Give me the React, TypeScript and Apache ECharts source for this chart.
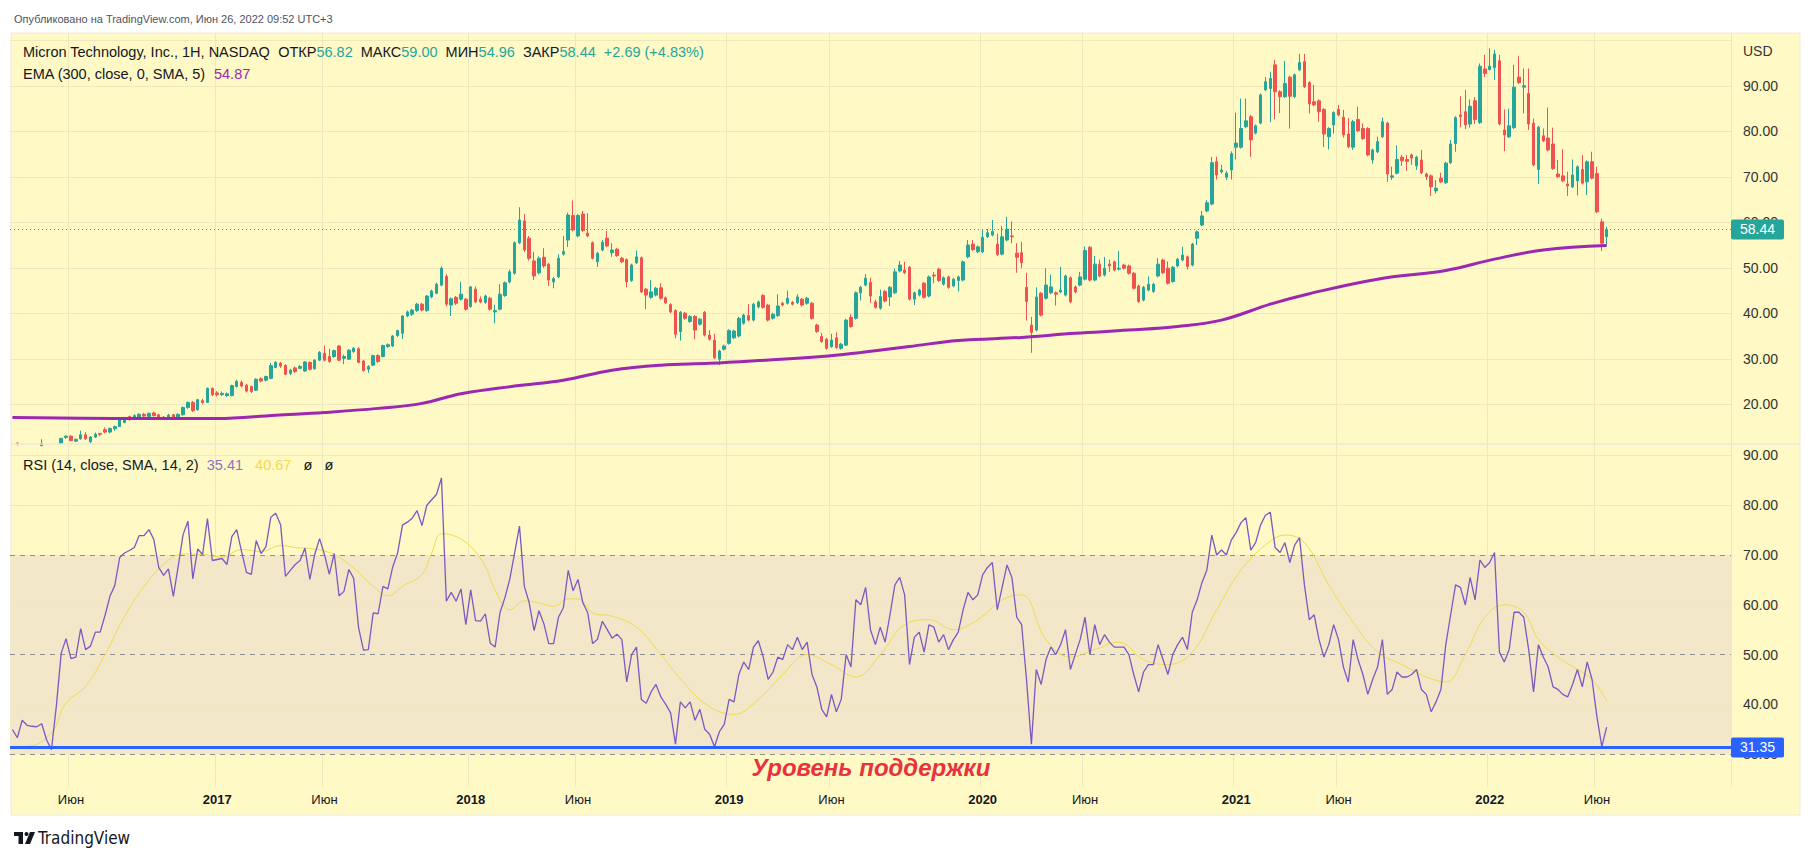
import React, { useEffect, useRef } from "react";
import * as echarts from "echarts";

// ---------- axis / categories ----------
const START_DATE_UTC = Date.UTC(2016, 2, 14); // first weekly bar (Monday)
const TOTAL_WEEKS = 353; // includes empty future space on the right

const tickDates = [
  "2016-06-06", "2017-01-02", "2017-06-05", "2018-01-01", "2018-06-04", "2019-01-07", "2019-06-03",
  "2020-01-06", "2020-06-01", "2021-01-04", "2021-05-31", "2022-01-03", "2022-06-06",
];
const tickTexts = ["Июн", "2017", "Июн", "2018", "Июн", "2019", "Июн", "2020", "Июн", "2021", "Июн", "2022", "Июн"];

const priceGridValues = [20, 30, 40, 50, 60, 70, 80, 90, 100];
const priceLabelValues = [20, 30, 40, 50, 60, 70, 80, 90];
const rsiGridValues = [40, 60, 80, 90];
const rsiDashedValues = [70, 50, 30];
const rsiLabelValues = [30, 40, 50, 60, 70, 80, 90];
const PRICE_MIN = 11.27;
const PRICE_MAX = 101.6;
const RSI_MIN = 23.4;
const RSI_MAX = 92.3;
const SUPPORT_LEVEL = 31.35;

// ---------- weekly candles (open, close, low, high) ----------
const opens = [
  10.9, 11.5, 11.1, 10.7, 10.9, 10.6, 10.9, 11.1, 10.6, 10.9,
  11.4, 12.7, 13.0, 11.9, 12.4, 13.3, 11.8, 12.8, 13.6, 14.4,
  13.9, 14.6, 15.1, 16.0, 17.3, 16.8, 16.9, 17.8, 17.3, 18.1,
  17.7, 17.2, 16.9, 17.7, 16.9, 17.7, 19.3, 20.4, 18.8, 20.8,
  20.4, 23.5, 22.5, 22.1, 21.9, 21.9, 23.9, 24.8, 24.2, 23.9,
  23.1, 25.6, 25.3, 25.7, 28.1, 29.0, 28.5, 26.8, 28.0, 27.9,
  27.3, 29.2, 27.8, 29.7, 31.2, 30.5, 30.5, 32.8, 30.1, 29.9,
  31.6, 32.2, 29.5, 27.7, 28.6, 30.7, 30.5, 32.7, 32.8, 35.1,
  35.6, 39.4, 39.8, 40.6, 42.0, 40.6, 43.6, 44.4, 46.2, 48.1,
  41.8, 43.5, 43.1, 43.1, 41.5, 45.3, 43.1, 42.4, 43.3, 40.3,
  40.9, 43.9, 46.9, 48.8, 55.5, 60.3, 56.5, 51.5, 48.9, 52.3,
  50.8, 46.9, 48.0, 53.0, 56.1, 61.5, 57.0, 61.8, 57.6, 55.5,
  51.3, 53.9, 56.5, 53.3, 54.1, 52.1, 51.8, 47.2, 51.1, 52.2,
  45.3, 43.5, 44.0, 45.6, 43.4, 41.9, 40.6, 36.0, 40.0, 38.2,
  39.3, 37.6, 40.2, 35.2, 34.1, 29.9, 32.1, 33.4, 34.6, 35.0,
  37.8, 39.5, 38.5, 41.4, 43.9, 41.8, 38.9, 39.5, 42.2, 42.2,
  42.4, 42.3, 43.1, 42.2, 42.2, 37.4, 34.9, 34.3, 32.7, 34.6,
  32.3, 33.0, 39.1, 38.9, 44.5, 46.2, 46.8, 42.5, 41.1, 44.8,
  43.6, 44.5, 49.3, 49.5, 50.1, 43.1, 44.0, 46.6, 43.8, 48.4,
  49.7, 46.4, 48.0, 46.0, 47.2, 47.3, 52.4, 55.2, 53.5, 53.5,
  56.8, 57.2, 55.2, 53.0, 56.1, 57.0, 53.2, 53.3, 45.7, 37.4,
  36.3, 44.4, 43.3, 44.5, 44.5, 44.7, 44.0, 47.8, 45.8, 46.2,
  47.5, 54.5, 47.3, 50.8, 48.4, 50.8, 51.3, 49.7, 50.6, 50.4,
  48.8, 46.0, 42.9, 45.1, 44.8, 48.2, 51.7, 49.9, 47.0, 50.4,
  51.7, 52.4, 50.6, 56.5, 59.4, 62.5, 64.0, 73.3, 71.1, 69.9,
  71.5, 76.5, 76.5, 81.0, 83.2, 79.6, 81.8, 89.1, 89.4, 94.6,
  88.7, 87.6, 91.9, 87.6, 93.5, 95.3, 90.7, 86.5, 86.7, 84.8,
  78.8, 81.4, 84.8, 83.1, 79.4, 76.5, 82.6, 80.6, 80.6, 73.7,
  75.5, 78.8, 81.8, 69.9, 70.8, 74.3, 73.8, 74.8, 72.4, 73.7,
  70.6, 70.2, 66.9, 69.7, 68.7, 73.1, 77.3, 83.6, 84.3, 81.6,
  86.7, 81.9, 93.7, 93.6, 94.0, 95.5, 80.3, 78.8, 80.8, 91.9,
  89.7, 88.3, 81.8, 71.6, 79.0, 78.5, 77.2, 70.6, 70.2, 68.4,
  67.8, 69.1, 71.6, 68.9, 73.3, 70.7, 60.1, 56.82,
];
const closes = [
  10.8, 11.3, 10.7, 10.9, 10.6, 10.9, 11.4, 10.6, 10.9, 11.1,
  12.5, 13.0, 12.0, 12.3, 13.3, 12.4, 12.8, 13.4, 13.4, 13.9,
  14.7, 15.1, 16.7, 16.9, 16.6, 17.5, 17.8, 17.4, 18.0, 17.5,
  16.9, 16.8, 17.6, 16.8, 17.8, 19.3, 20.4, 18.6, 21.0, 20.4,
  23.5, 22.1, 22.1, 22.4, 22.3, 24.1, 25.0, 24.0, 22.9, 22.8,
  25.5, 25.1, 26.1, 28.5, 29.2, 28.4, 26.6, 27.5, 27.2, 28.3,
  29.3, 27.7, 29.7, 31.4, 29.7, 29.4, 31.8, 29.7, 30.5, 31.9,
  32.3, 29.2, 27.4, 28.3, 30.7, 29.4, 32.9, 33.1, 35.0, 36.2,
  39.4, 40.3, 40.7, 42.0, 40.7, 43.8, 44.9, 46.4, 49.9, 42.0,
  43.2, 42.2, 44.2, 40.9, 45.8, 42.5, 42.5, 43.8, 40.9, 40.6,
  44.2, 46.7, 49.1, 55.5, 60.5, 53.9, 52.1, 48.2, 52.1, 50.4,
  47.3, 47.6, 52.1, 53.6, 61.6, 58.3, 61.5, 58.2, 57.0, 52.1,
  53.2, 55.6, 54.8, 53.9, 52.7, 51.3, 46.9, 50.6, 52.4, 44.7,
  44.0, 44.7, 45.5, 43.3, 42.3, 40.3, 35.4, 40.2, 38.9, 39.3,
  36.3, 38.7, 35.2, 34.3, 30.2, 31.7, 32.8, 36.2, 36.1, 38.9,
  39.6, 38.5, 42.0, 42.5, 41.3, 38.5, 39.8, 41.6, 41.8, 43.3,
  42.0, 43.6, 41.8, 43.3, 38.9, 36.0, 33.8, 32.3, 34.1, 32.5,
  33.2, 38.5, 37.1, 44.5, 45.7, 47.7, 43.8, 41.3, 43.7, 42.7,
  45.7, 49.1, 50.6, 48.9, 43.1, 44.5, 45.1, 43.5, 48.0, 48.2,
  47.2, 47.8, 45.7, 47.5, 48.0, 51.3, 55.0, 54.0, 54.6, 56.7,
  57.7, 58.0, 52.9, 56.8, 58.5, 56.8, 52.3, 51.1, 42.6, 35.8,
  43.6, 39.6, 46.2, 45.8, 44.2, 45.1, 48.2, 42.5, 44.7, 48.0,
  53.8, 47.3, 50.8, 48.2, 49.9, 50.4, 49.5, 49.9, 49.9, 48.8,
  45.5, 42.6, 45.7, 46.4, 46.4, 50.8, 48.9, 46.6, 50.1, 51.9,
  52.8, 50.3, 55.2, 57.9, 61.4, 64.3, 73.1, 70.4, 71.5, 70.8,
  75.1, 77.4, 80.6, 82.3, 78.1, 81.2, 88.0, 90.9, 91.6, 88.7,
  87.6, 90.5, 87.7, 92.4, 95.1, 89.8, 86.0, 85.8, 84.3, 79.4,
  80.6, 84.1, 83.6, 79.2, 76.6, 82.1, 80.1, 78.4, 74.8, 75.9,
  77.7, 82.1, 70.6, 70.2, 73.8, 73.5, 73.4, 74.1, 74.3, 70.9,
  70.0, 67.8, 67.5, 68.9, 73.0, 77.2, 83.0, 83.2, 81.4, 85.5,
  82.6, 94.3, 92.7, 94.3, 97.0, 81.6, 79.2, 81.2, 89.7, 90.7,
  90.0, 81.6, 72.6, 80.9, 77.9, 75.9, 71.8, 70.0, 69.1, 68.0,
  70.4, 72.2, 68.6, 73.3, 69.7, 62.3, 55.4, 58.44,
];
const lows = [
  10.5, 11.0, 10.5, 10.5, 10.3, 10.4, 10.8, 10.4, 10.4, 10.7,
  11.2, 12.4, 11.9, 11.7, 12.2, 12.2, 11.4, 12.6, 13.0, 13.6,
  13.6, 14.2, 15.0, 15.8, 16.4, 16.6, 16.7, 17.2, 17.1, 17.3,
  16.7, 16.6, 16.8, 16.6, 16.8, 17.5, 19.0, 18.3, 18.6, 20.0,
  20.3, 21.8, 21.7, 21.8, 21.6, 21.8, 23.7, 23.7, 22.6, 22.5,
  22.9, 24.8, 25.0, 25.5, 27.9, 28.0, 26.4, 26.4, 26.9, 27.7,
  27.1, 27.4, 27.6, 29.5, 29.4, 29.1, 30.2, 29.5, 28.8, 29.7,
  31.3, 29.0, 27.2, 26.9, 28.4, 29.1, 30.3, 32.4, 32.6, 34.8,
  34.3, 39.1, 39.4, 40.3, 40.4, 40.3, 43.3, 44.2, 45.9, 41.5,
  39.4, 41.8, 42.8, 40.6, 41.2, 42.2, 42.2, 42.1, 40.6, 37.8,
  40.6, 43.6, 46.6, 48.5, 55.2, 53.5, 51.6, 47.3, 48.5, 50.0,
  46.0, 45.5, 47.7, 52.7, 54.6, 58.0, 56.7, 57.9, 56.7, 51.8,
  50.2, 53.6, 54.5, 52.4, 52.4, 51.0, 45.7, 46.9, 50.8, 44.4,
  40.9, 43.2, 43.7, 43.0, 42.0, 40.0, 34.5, 34.0, 38.6, 37.9,
  34.3, 37.3, 34.9, 34.0, 29.9, 28.6, 31.8, 33.1, 34.3, 34.7,
  37.5, 38.2, 38.2, 41.1, 41.0, 38.2, 38.6, 39.2, 41.5, 41.9,
  41.7, 42.0, 41.5, 41.9, 38.6, 35.7, 33.5, 32.0, 32.4, 32.2,
  32.0, 32.8, 36.8, 38.6, 42.8, 45.9, 42.3, 41.0, 40.8, 42.4,
  41.6, 44.2, 49.0, 48.6, 42.8, 41.8, 43.7, 43.2, 43.5, 46.6,
  46.9, 46.1, 45.4, 45.7, 44.8, 47.0, 52.1, 53.7, 53.2, 53.2,
  56.5, 56.9, 52.6, 52.7, 55.8, 55.4, 48.9, 49.9, 38.4, 31.3,
  36.0, 39.3, 43.0, 44.2, 41.7, 44.4, 43.7, 42.2, 44.4, 45.9,
  47.2, 47.0, 47.0, 47.9, 48.1, 49.1, 49.2, 49.4, 49.6, 48.5,
  45.2, 42.3, 42.6, 44.8, 44.5, 47.9, 48.6, 46.3, 46.7, 50.1,
  51.4, 49.6, 50.3, 55.0, 59.1, 62.2, 63.7, 69.4, 70.7, 69.3,
  69.4, 73.8, 76.2, 80.7, 74.4, 79.3, 81.5, 88.8, 82.0, 82.6,
  84.0, 87.3, 80.6, 87.3, 93.2, 89.5, 83.9, 85.5, 82.1, 76.5,
  76.0, 79.5, 83.3, 78.6, 76.3, 75.9, 79.8, 78.1, 74.5, 72.9,
  75.2, 78.5, 68.9, 69.3, 70.5, 72.4, 71.3, 72.6, 71.5, 70.6,
  69.3, 65.8, 66.3, 68.6, 68.4, 72.8, 75.5, 80.9, 80.5, 80.8,
  81.6, 81.6, 91.9, 93.3, 91.3, 81.3, 75.6, 78.5, 80.5, 90.4,
  83.9, 80.3, 72.3, 68.4, 77.6, 75.6, 71.5, 69.7, 68.8, 65.8,
  67.5, 65.9, 68.3, 66.0, 69.4, 62.0, 53.7, 54.96,
];
const highs = [
  11.1, 11.6, 11.2, 11.1, 11.0, 11.1, 12.3, 11.2, 11.1, 11.2,
  12.6, 13.2, 13.2, 12.5, 14.2, 13.9, 13.0, 13.8, 13.7, 14.9,
  14.9, 15.3, 16.9, 17.1, 17.5, 17.8, 18.0, 18.1, 18.2, 18.4,
  17.9, 17.4, 17.9, 17.9, 18.0, 19.5, 20.6, 20.7, 21.2, 21.2,
  23.7, 23.7, 22.9, 22.8, 22.6, 24.3, 25.4, 25.2, 24.5, 24.1,
  25.7, 25.9, 26.3, 29.1, 29.5, 29.3, 28.8, 27.8, 28.3, 28.6,
  29.5, 29.4, 29.9, 31.7, 32.9, 32.2, 32.0, 33.0, 30.9, 32.1,
  32.6, 32.5, 29.8, 28.6, 30.9, 31.0, 33.1, 33.4, 35.2, 36.4,
  39.6, 40.6, 41.0, 42.3, 42.3, 44.0, 45.2, 46.7, 50.3, 48.6,
  43.5, 43.8, 46.9, 43.4, 46.0, 45.9, 43.7, 44.1, 43.6, 41.9,
  46.4, 47.0, 49.6, 55.8, 63.3, 61.8, 57.0, 53.5, 52.5, 54.3,
  51.1, 48.0, 53.0, 57.0, 62.1, 64.8, 61.8, 62.5, 62.0, 55.8,
  53.5, 56.1, 58.1, 55.4, 54.4, 52.4, 52.1, 50.9, 53.8, 52.5,
  45.6, 47.3, 45.8, 46.6, 43.7, 42.2, 40.9, 40.5, 40.3, 39.6,
  39.6, 39.0, 40.5, 36.3, 35.5, 32.0, 33.1, 36.5, 36.4, 39.2,
  39.9, 42.0, 42.3, 42.8, 44.2, 42.1, 40.1, 44.2, 42.5, 45.0,
  42.7, 44.2, 43.4, 43.6, 42.5, 37.7, 35.7, 34.6, 35.5, 35.8,
  33.5, 38.8, 39.8, 44.8, 46.0, 48.6, 47.8, 43.0, 45.2, 45.1,
  46.0, 49.8, 51.5, 51.3, 50.4, 44.8, 45.4, 46.9, 48.3, 49.1,
  50.0, 48.1, 48.3, 47.8, 48.3, 51.6, 56.1, 56.1, 54.9, 58.5,
  58.5, 60.5, 57.5, 59.2, 61.2, 60.2, 55.4, 55.7, 48.9, 39.2,
  45.7, 44.7, 49.9, 48.5, 44.8, 50.2, 48.5, 48.1, 46.1, 49.1,
  54.7, 54.8, 52.6, 51.8, 52.4, 51.8, 51.6, 53.7, 50.9, 50.7,
  49.1, 46.3, 46.0, 48.1, 46.7, 52.1, 52.0, 51.4, 50.4, 52.2,
  54.6, 52.7, 55.5, 58.2, 62.5, 64.9, 74.4, 74.4, 72.6, 71.3,
  75.6, 84.1, 87.2, 87.2, 83.6, 81.5, 88.3, 91.9, 93.1, 95.7,
  89.0, 95.5, 92.2, 92.7, 97.0, 97.0, 91.0, 90.2, 87.0, 85.1,
  80.9, 84.4, 85.8, 84.7, 82.9, 82.5, 85.4, 81.7, 80.9, 76.2,
  78.8, 83.0, 82.1, 72.2, 76.9, 74.8, 74.8, 75.1, 74.6, 75.9,
  70.9, 70.5, 69.3, 70.9, 73.3, 78.1, 83.3, 87.7, 89.1, 87.0,
  87.5, 94.9, 96.8, 98.2, 97.9, 96.8, 84.8, 85.0, 94.6, 96.5,
  93.8, 93.8, 82.8, 81.2, 80.6, 85.2, 80.8, 73.7, 76.0, 71.1,
  73.8, 72.5, 74.8, 73.6, 75.5, 72.2, 60.8, 59.0,
];

// ---------- EMA (300, SMA 5 smoothed) read at sample bars ----------
const emaPoints: [number, number][] = [
  [0, 17.1], [21, 16.9], [42, 16.85], [54, 17.6], [64, 18.2], [75, 19.1], [84, 20.2], [92, 22.3],
  [103, 24.0], [113, 25.3], [123, 27.5], [133, 28.6], [143, 29.0], [153, 29.6], [166, 30.5], [174, 31.4],
  [184, 32.7], [194, 34.0], [207, 34.7], [218, 35.6], [229, 36.3], [239, 37.1], [248, 38.5], [258, 42.0],
  [266, 44.3], [280, 47.5], [294, 49.4], [304, 51.9], [314, 53.9], [327, 54.87],
];

// ---------- RSI(14) per bar ----------
const rsiValues = [
  34.95, 33.3, 36.8, 35.8, 35.6, 35.5, 36.1, 32.9, 30.9, 39.6,
  50.3, 53.2, 49.2, 49.5, 55.2, 51.0, 51.7, 54.5, 54.5, 57.9,
  61.7, 63.9, 69.5, 70.4, 70.9, 71.5, 73.9, 73.9, 75.1, 73.1,
  67.5, 65.9, 67.2, 61.7, 67.7, 74.1, 76.8, 65.2, 71.2, 70.1,
  77.3, 68.9, 69.1, 69.3, 68.1, 73.7, 75.1, 70.7, 66.5, 66.1,
  72.9, 70.3, 71.7, 77.6, 78.4, 76.1, 65.7, 66.9, 68.1, 68.9,
  71.4, 65.1, 70.1, 73.3, 70.1, 66.1, 70.3, 61.8, 62.7, 67.1,
  65.3, 55.4, 50.9, 51.0, 58.4, 58.2, 63.7, 63.2, 67.6, 70.4,
  76.0, 76.6, 77.4, 78.9, 75.9, 80.0, 81.1, 82.2, 85.5, 60.7,
  62.5, 60.7, 63.2, 56.0, 63.0, 56.8, 56.7, 58.2, 52.3, 51.5,
  58.4, 61.4, 65.1, 70.4, 75.8, 63.7, 60.4, 54.8, 58.8, 56.2,
  52.2, 52.2, 57.5, 59.4, 66.9, 62.8, 65.1, 60.4, 58.4, 52.2,
  53.1, 56.7, 55.0, 53.3,
  54.1, 53.0, 44.5, 50.0, 51.5, 41.0, 40.2, 42.5, 44.0, 41.5,
  40.0, 38.3, 32.0, 40.5, 39.3, 40.5, 36.8, 39.0, 35.0, 34.0,
  31.5, 34.5, 36.0, 41.0, 40.5, 46.0, 48.5, 47.0, 51.5, 52.8,
  49.5, 45.0, 46.5, 49.5, 49.0, 52.0, 51.0, 53.5, 51.0, 52.5,
  46.0, 43.5, 39.0, 37.5, 42.0, 38.5, 41.0, 50.0, 47.5, 61.0,
  60.0, 63.5, 55.0, 52.0, 55.5, 52.5, 58.0, 64.0, 65.5, 62.0,
  48.0, 53.5, 54.5, 50.5, 56.0, 55.5, 52.5, 54.0, 51.0, 53.0,
  54.5, 59.0, 62.5, 61.0, 62.0, 66.0, 67.5, 68.5, 59.0, 63.5,
  68.0, 65.5, 57.5, 56.0, 45.0, 32.0, 47.0, 44.0, 49.0, 51.5,
  50.0, 52.0, 55.0, 47.0, 50.0, 53.0, 57.5, 50.0, 56.0, 52.0,
  54.0, 52.5, 51.5, 51.5, 51.5, 50.0, 46.0, 42.5, 46.5, 48.0,
  48.0, 52.0, 49.0, 46.0, 50.0, 52.0, 53.5, 51.0, 58.5, 61.0,
  64.5, 67.0, 74.0, 70.0, 71.0, 70.0, 73.0, 74.5, 76.5, 77.5,
  71.0, 72.5, 76.0, 78.0, 78.6, 71.5, 70.5, 72.5, 68.5, 72.0,
  73.5, 64.0, 57.0, 58.0, 53.0, 49.5, 52.0, 56.0, 53.0, 47.5,
  44.5, 53.0, 49.0, 46.0, 42.0, 45.0, 47.5, 53.0, 42.0, 43.0,
  46.5, 45.5, 45.5, 46.0, 47.0, 43.0, 42.0, 38.5, 40.5, 43.0,
  52.0, 58.0, 64.0, 63.5, 60.0, 65.5, 61.0, 69.0, 67.5, 68.5,
  70.5, 50.5, 48.5, 51.0, 58.5, 58.5, 57.5, 51.0, 42.5, 52.0,
  49.5, 47.5, 43.5, 43.0, 42.0, 41.5, 44.0, 47.0, 43.5, 48.5,
  45.0, 37.5, 31.5, 35.41,
];

// ---------- RSI-based MA (SMA 14) read at sample bars ----------
const rsiSmaPoints: [number, number][] = [
  [0, 31.6], [3, 31.6], [8, 34.3], [11, 40.3], [15, 43.6], [19, 50.0], [23, 57.7], [27, 63.7],
  [31, 68.1], [35, 70.2], [39, 70.1], [43, 69.6], [47, 71.1], [51, 70.7], [55, 71.9], [58, 71.5],
  [62, 71.2], [66, 70.1], [70, 67.4], [74, 63.7], [77, 61.8], [80, 63.7], [84, 66.1], [86, 70.4],
  [88, 74.3], [91, 73.7], [94, 71.7], [97, 67.7], [99, 63.0], [102, 59.0], [105, 60.8], [108, 60.4],
  [111, 59.7], [114, 61.2], [116, 61.2], [119, 58.4], [123, 57.7], [128, 55.5], [133, 50.0], [138, 44.0],
  [143, 39.5], [148, 38.0], [153, 41.0], [158, 46.0], [163, 50.0], [168, 48.0], [173, 45.5], [178, 50.0],
  [183, 56.0], [188, 57.0], [193, 55.0], [198, 57.0], [203, 61.0], [207, 62.0], [212, 53.0], [217, 49.5],
  [222, 51.0], [227, 52.5], [232, 49.0], [237, 48.0], [242, 50.5], [247, 59.0], [252, 67.0], [257, 72.0],
  [261, 74.0], [265, 72.5], [270, 64.0], [275, 56.5], [280, 50.5], [285, 48.0], [290, 45.5], [294, 44.5],
  [298, 50.0], [302, 57.5], [306, 60.0], [310, 58.5], [313, 53.0], [317, 49.5], [321, 47.0], [324, 45.0],
  [327, 40.67],
];

// ---------- legend texts ----------
const HEADER_TEXT = "Опубликовано на TradingView.com, Июн 26, 2022 09:52 UTC+3";
const SYMBOL_TEXT = "Micron Technology, Inc., 1H, NASDAQ";
const ohlcLabels = ["ОТКР", "МАКС", "МИН", "ЗАКР"];
const ohlcValues = ["56.82", "59.00", "54.96", "58.44"];
const CHANGE_TEXT = "+2.69 (+4.83%)";
const EMA_TITLE = "EMA (300, close, 0, SMA, 5)";
const EMA_LAST = "54.87";
const RSI_TITLE = "RSI (14, close, SMA, 14, 2)";
const RSI_LAST = "35.41";
const RSI_MA_LAST = "40.67";
const SUPPORT_TEXT = "Уровень поддержки";

// ---------- styles ----------
const FONT = "'Liberation Sans', Arial, sans-serif";
const NARROW_FONT = "'Liberation Sans Narrow', 'DejaVu Sans Condensed', 'Liberation Sans', sans-serif";
const UP = "#26a69a";
const DOWN = "#ef5350";
const BG = "#fff9c6";
const GRID = "#efe8bf";
const BAND = "#f2e8c9";
const TEXT = "#131722";
const EMA_COLOR = "#9c27b0";
const RSI_COLOR = "#7e57c2";
const RSI_MA_COLOR = "#f3d94e";
const SUPPORT_COLOR = "#2962ff";
const LEGEND_SIZE = 14.5;

function buildCategories(): string[] {
  const out: string[] = [];
  for (let k = 0; k < TOTAL_WEEKS; k++) {
    out.push(new Date(START_DATE_UTC + k * 7 * 86400000).toISOString().slice(0, 10));
  }
  return out;
}

function sparse(points: [number, number][], len: number): (number | null)[] {
  const arr: (number | null)[] = new Array(len).fill(null);
  points.forEach(([i, v]) => {
    arr[i] = v;
  });
  return arr;
}

function buildOption() {
  const cats = buildCategories();
  const tickMap = new Map<number, string>();
  tickDates.forEach((d, j) => tickMap.set(cats.indexOf(d), tickTexts[j]));
  const candleData = opens.map((o, k) => [o, closes[k], lows[k], highs[k]]);
  const lastClose = closes[closes.length - 1];
  const n = closes.length;

  const splitInterval = (idx: number) => tickMap.has(idx);

  const xAxisBase = {
    type: "category",
    data: cats,
    boundaryGap: true,
    axisLine: { show: false },
    axisTick: { show: false },
    splitLine: { show: true, interval: splitInterval, lineStyle: { color: GRID, width: 1 } },
  };

  const legendRich = {
    d: { fill: TEXT, fontSize: LEGEND_SIZE, fontFamily: FONT },
    v: { fill: UP, fontSize: LEGEND_SIZE, fontFamily: FONT },
    e: { fill: EMA_COLOR, fontSize: LEGEND_SIZE, fontFamily: FONT },
    r: { fill: "#8a73c4", fontSize: LEGEND_SIZE, fontFamily: FONT },
    m: { fill: RSI_MA_COLOR, fontSize: LEGEND_SIZE, fontFamily: FONT },
  };

  let legend1 = `{d|${SYMBOL_TEXT}}`;
  ohlcLabels.forEach((l, j) => {
    legend1 += `{d|  ${l}}{v|${ohlcValues[j]}}`;
  });
  legend1 += `{v|  ${CHANGE_TEXT}}`;

  return {
    animation: false,
    backgroundColor: "#ffffff",
    textStyle: { fontFamily: FONT },
    grid: [
      { left: 10, right: 82, top: 33, height: 411 },
      { left: 10, right: 82, top: 444, height: 343 },
    ],
    xAxis: [
      { ...xAxisBase, gridIndex: 0, axisLabel: { show: false } },
      {
        ...xAxisBase,
        gridIndex: 1,
        axisLabel: {
          show: true,
          interval: splitInterval,
          margin: 6,
          formatter: (_v: string, idx: number) => {
            const t = tickMap.get(idx);
            if (!t) return "";
            return /^\d/.test(t) ? `{y|${t}}` : `{m|${t}}`;
          },
          rich: {
            y: { fontWeight: "bold", fontSize: 13, color: TEXT, fontFamily: FONT },
            m: { fontSize: 13, color: TEXT, fontFamily: FONT },
          },
        },
      },
    ],
    yAxis: [
      {
        type: "value", gridIndex: 0, min: PRICE_MIN, max: PRICE_MAX, position: "right",
        axisLine: { show: false }, axisTick: { show: false }, axisLabel: { show: false }, splitLine: { show: false },
      },
      {
        type: "value", gridIndex: 1, min: RSI_MIN, max: RSI_MAX, position: "right",
        axisLine: { show: false }, axisTick: { show: false }, axisLabel: { show: false }, splitLine: { show: false },
      },
    ],
    series: [
      // price pane grid lines + price scale labels
      {
        type: "line", xAxisIndex: 0, yAxisIndex: 0, data: [], z: 1, silent: true,
        markLine: {
          silent: true, z: 1, symbol: ["none", "none"],
          lineStyle: { color: GRID, width: 1, type: "solid" },
          label: {
            position: "end", distance: 12, color: "#333333", fontSize: 14, fontFamily: FONT,
            formatter: (p: any) => Number(p.value).toFixed(2),
          },
          data: priceGridValues.map((v) => ({ yAxis: v, label: { show: priceLabelValues.includes(v) } })),
        },
      },
      {
        type: "candlestick", name: "MU", xAxisIndex: 0, yAxisIndex: 0, data: candleData, barWidth: 3, clip: true, z: 3,
        itemStyle: { color: UP, color0: DOWN, borderColor: UP, borderColor0: DOWN, borderWidth: 1 },
        markLine: {
          silent: true, z: 8, symbol: ["none", "none"],
          lineStyle: { color: UP, width: 1, type: [1, 3] },
          label: {
            position: "end", distance: 0, formatter: lastClose.toFixed(2), color: "#ffffff", fontSize: 14,
            fontFamily: FONT, backgroundColor: UP, padding: [3, 9, 3, 9], borderRadius: 2,
          },
          data: [{ yAxis: lastClose }],
        },
      },
      {
        type: "line", name: "EMA", xAxisIndex: 0, yAxisIndex: 0, data: sparse(emaPoints, n), smooth: 0.4,
        connectNulls: true, showSymbol: false, z: 4, lineStyle: { color: EMA_COLOR, width: 3 },
      },
      // RSI pane: grid, band, dashed levels, scale labels
      {
        type: "line", xAxisIndex: 1, yAxisIndex: 1, data: [], z: 1, silent: true,
        markArea: { silent: true, z: 1, itemStyle: { color: BAND }, data: [[{ yAxis: 30 }, { yAxis: 70 }]] },
        markLine: {
          silent: true, z: 2, symbol: ["none", "none"],
          label: {
            position: "end", distance: 12, color: "#333333", fontSize: 14, fontFamily: FONT,
            formatter: (p: any) => Number(p.value).toFixed(2),
          },
          data: [
            ...rsiGridValues.map((v) => ({
              yAxis: v, lineStyle: { color: GRID, width: 1, type: "solid" },
              label: { show: rsiLabelValues.includes(v) },
            })),
            ...rsiDashedValues.map((v) => ({
              yAxis: v, lineStyle: { color: "#8f8f8f", width: 1, type: [5, 5] },
              label: { show: rsiLabelValues.includes(v) },
            })),
          ],
        },
      },
      {
        type: "line", name: "RSI", xAxisIndex: 1, yAxisIndex: 1, data: rsiValues, showSymbol: false, z: 4,
        lineStyle: { color: RSI_COLOR, width: 1.3 },
        markLine: {
          silent: true, z: 8, symbol: ["none", "none"],
          lineStyle: { color: SUPPORT_COLOR, width: 3, type: "solid" },
          label: {
            position: "end", distance: 0, formatter: SUPPORT_LEVEL.toFixed(2), color: "#ffffff", fontSize: 14,
            fontFamily: FONT, backgroundColor: SUPPORT_COLOR, padding: [3, 9, 3, 9], borderRadius: 2,
          },
          data: [{ yAxis: SUPPORT_LEVEL }],
        },
      },
      {
        type: "line", name: "RSI MA", xAxisIndex: 1, yAxisIndex: 1, data: sparse(rsiSmaPoints, n), smooth: 0.4,
        connectNulls: true, showSymbol: false, z: 3, lineStyle: { color: RSI_MA_COLOR, width: 1 },
      },
    ],
    graphic: {
      elements: [
        {
          type: "rect", z: -10, silent: true,
          shape: { x: 11, y: 33, width: 1789, height: 782 },
          style: { fill: BG, stroke: "#ece9d8", lineWidth: 1 },
        },
        {
          type: "line", z: 10, silent: true,
          shape: { x1: 11, y1: 444, x2: 1800, y2: 444 },
          style: { stroke: "#ebe8da", lineWidth: 1.5 },
        },
        {
          type: "text", z: 20, silent: true,
          style: { x: 14, y: 19, text: HEADER_TEXT, fill: "#50535e", fontSize: 11, fontFamily: FONT, verticalAlign: "middle" },
        },
        {
          type: "text", z: 20, silent: true,
          style: { x: 23, y: 52, text: legend1, rich: legendRich, verticalAlign: "middle" },
        },
        {
          type: "text", z: 20, silent: true,
          style: { x: 23, y: 74, text: `{d|${EMA_TITLE}  }{e|${EMA_LAST}}`, rich: legendRich, verticalAlign: "middle" },
        },
        {
          type: "text", z: 20, silent: true,
          style: {
            x: 23, y: 465, text: `{d|${RSI_TITLE}  }{r|${RSI_LAST}}{d|   }{m|${RSI_MA_LAST}}{d|   ø   ø}`,
            rich: legendRich, verticalAlign: "middle",
          },
        },
        {
          type: "text", z: 20, silent: true,
          style: { x: 1743, y: 51, text: "USD", fill: "#333333", fontSize: 14, fontFamily: FONT, verticalAlign: "middle" },
        },
        {
          type: "text", z: 20, silent: true,
          style: {
            x: 871, y: 767, text: SUPPORT_TEXT, fill: "#e8333c", fontSize: 24, fontWeight: "bold", fontStyle: "italic",
            fontFamily: FONT, align: "center", verticalAlign: "middle",
          },
        },
        // TradingView logo
        { type: "rect", z: 20, silent: true, shape: { x: 14, y: 832, width: 9, height: 4 }, style: { fill: TEXT } },
        { type: "rect", z: 20, silent: true, shape: { x: 18.5, y: 832, width: 4.5, height: 12 }, style: { fill: TEXT } },
        { type: "circle", z: 20, silent: true, shape: { cx: 26.5, cy: 834, r: 2 }, style: { fill: TEXT } },
        {
          type: "polygon", z: 20, silent: true,
          shape: { points: [[30, 832], [35, 832], [30, 844], [25, 844]] }, style: { fill: TEXT },
        },
        {
          type: "text", z: 20, silent: true,
          style: { x: 38, y: 838, text: "TradingView", fill: TEXT, fontSize: 17, fontFamily: NARROW_FONT, verticalAlign: "middle" },
        },
      ],
    },
  };
}

export default function App() {
  const ref = useRef<HTMLDivElement>(null);
  useEffect(() => {
    if (!ref.current) return;
    const chart = echarts.init(ref.current, undefined, { renderer: "svg" });
    chart.setOption(buildOption() as any);
    return () => chart.dispose();
  }, []);
  return <div ref={ref} style={{ position: "absolute", left: 0, top: 0, width: 1813, height: 861 }} />;
}
